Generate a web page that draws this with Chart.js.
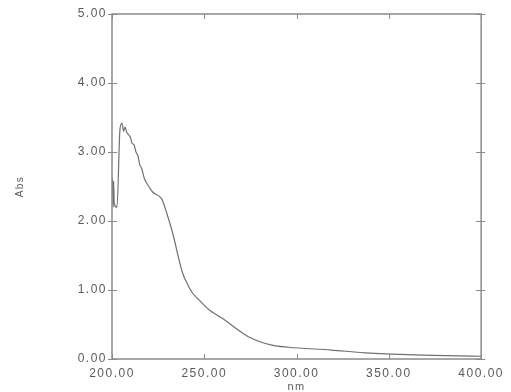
<!DOCTYPE html>
<html>
<head>
<meta charset="utf-8">
<script src="https://cdn.jsdelivr.net/npm/chart.js@4/dist/chart.umd.min.js"></script>
<style>
html,body{margin:0;padding:0;background:#fff;}
#wrap{width:511px;height:392px;position:relative;}
</style>
</head>
<body>
<div id="wrap"><canvas id="c" width="511" height="392"></canvas></div>
<script>
// Wavelength (nm) and absorbance values
const wavelengths = [200.0, 200.3, 200.6, 200.9, 201.2, 202.7, 204.3, 205.4, 206.3, 207.0, 208.1, 209.0, 210.0, 210.8, 212.0, 213.0, 214.0, 215.0, 216.1, 217.5, 218.8, 222.0, 226.9, 229.6, 232.8, 238.2, 241.0, 243.5, 247.0, 252.7, 259.7, 274.2, 286.6, 295.7, 318.8, 337.1, 364.0, 400.0];
const absorbance  = [2.45, 2.62, 2.20, 2.58, 2.25, 2.20, 3.32, 3.42, 3.30, 3.36, 3.28, 3.25, 3.21, 3.13, 3.10, 3.00, 2.95, 2.82, 2.76, 2.62, 2.55, 2.42, 2.32, 2.12, 1.83, 1.25, 1.08, 0.96, 0.86, 0.71, 0.59, 0.32, 0.20, 0.17, 0.13, 0.09, 0.06, 0.04];
const xTickValues = [200, 250, 300, 350, 400];
const yTickValues = [0, 1, 2, 3, 4, 5];
const xTitle = 'nm';
const yTitle = 'Abs';

const points = wavelengths.map((w, i) => ({x: w, y: absorbance[i]}));
const GRAY = '#8a8a8a';
const TEXT = '#5a5a5a';

const spacingPlugin = {
  id: 'spacing',
  beforeLayout(chart) { chart.ctx.letterSpacing = '1.5px'; },
  beforeDraw(chart) { chart.ctx.letterSpacing = '1.5px'; }
};

const framePlugin = {
  id: 'frame',
  afterDraw(chart) {
    const {ctx, chartArea: a, scales} = chart;
    ctx.save();
    ctx.strokeStyle = GRAY;
    ctx.lineWidth = 1.5;
    ctx.strokeRect(a.left, a.top, a.right - a.left, a.bottom - a.top);
    ctx.lineWidth = 1;
    ctx.beginPath();
    xTickValues.forEach(v => {
      const px = Math.round(scales.x.getPixelForValue(v)) + 0.5;
      ctx.moveTo(px, a.bottom); ctx.lineTo(px, a.bottom - 5);
      ctx.moveTo(px, a.top); ctx.lineTo(px, a.top + 5);
    });
    yTickValues.forEach(v => {
      const py = Math.round(scales.y.getPixelForValue(v)) + 0.5;
      ctx.moveTo(a.left - 4, py); ctx.lineTo(a.left + 5, py);
      ctx.moveTo(a.right - 5, py); ctx.lineTo(a.right + 4, py);
    });
    ctx.stroke();
    ctx.restore();
  }
};

new Chart(document.getElementById('c'), {
  type: 'line',
  data: {
    datasets: [{
      data: points,
      borderColor: '#707070',
      borderWidth: 1.2,
      pointRadius: 0,
      cubicInterpolationMode: 'monotone',
      fill: false
    }]
  },
  options: {
    responsive: false,
    animation: false,
    layout: {padding: {top: 14, right: 27, left: 0, bottom: 0}},
    plugins: {legend: {display: false}, tooltip: {enabled: false}},
    scales: {
      x: {
        type: 'linear', min: 200, max: 400,
        afterBuildTicks(s) { s.ticks = xTickValues.map(v => ({value: v})); },
        afterFit(s) { s.height = 33; },
        grid: {display: false, drawTicks: false},
        border: {display: false},
        ticks: {
          padding: 7, maxRotation: 0, color: TEXT,
          font: {family: 'Liberation Sans', size: 12},
          callback: v => Number(v).toFixed(2)
        },
        title: {display: true, text: xTitle, color: TEXT, font: {family: 'Liberation Sans', size: 11}, padding: {top: 0, bottom: -2}}
      },
      y: {
        type: 'linear', min: 0, max: 5,
        afterBuildTicks(s) { s.ticks = yTickValues.map(v => ({value: v})); },
        afterFit(s) { s.width = 112; },
        grid: {display: false, drawTicks: false},
        border: {display: false},
        ticks: {
          padding: 5, color: TEXT,
          font: {family: 'Liberation Sans', size: 12},
          callback: v => Number(v).toFixed(2)
        },
        title: {display: true, text: yTitle, color: TEXT, font: {family: 'Liberation Sans', size: 10}, padding: {top: 14, bottom: 0}}
      }
    }
  },
  plugins: [spacingPlugin, framePlugin]
});
</script>
</body>
</html>
